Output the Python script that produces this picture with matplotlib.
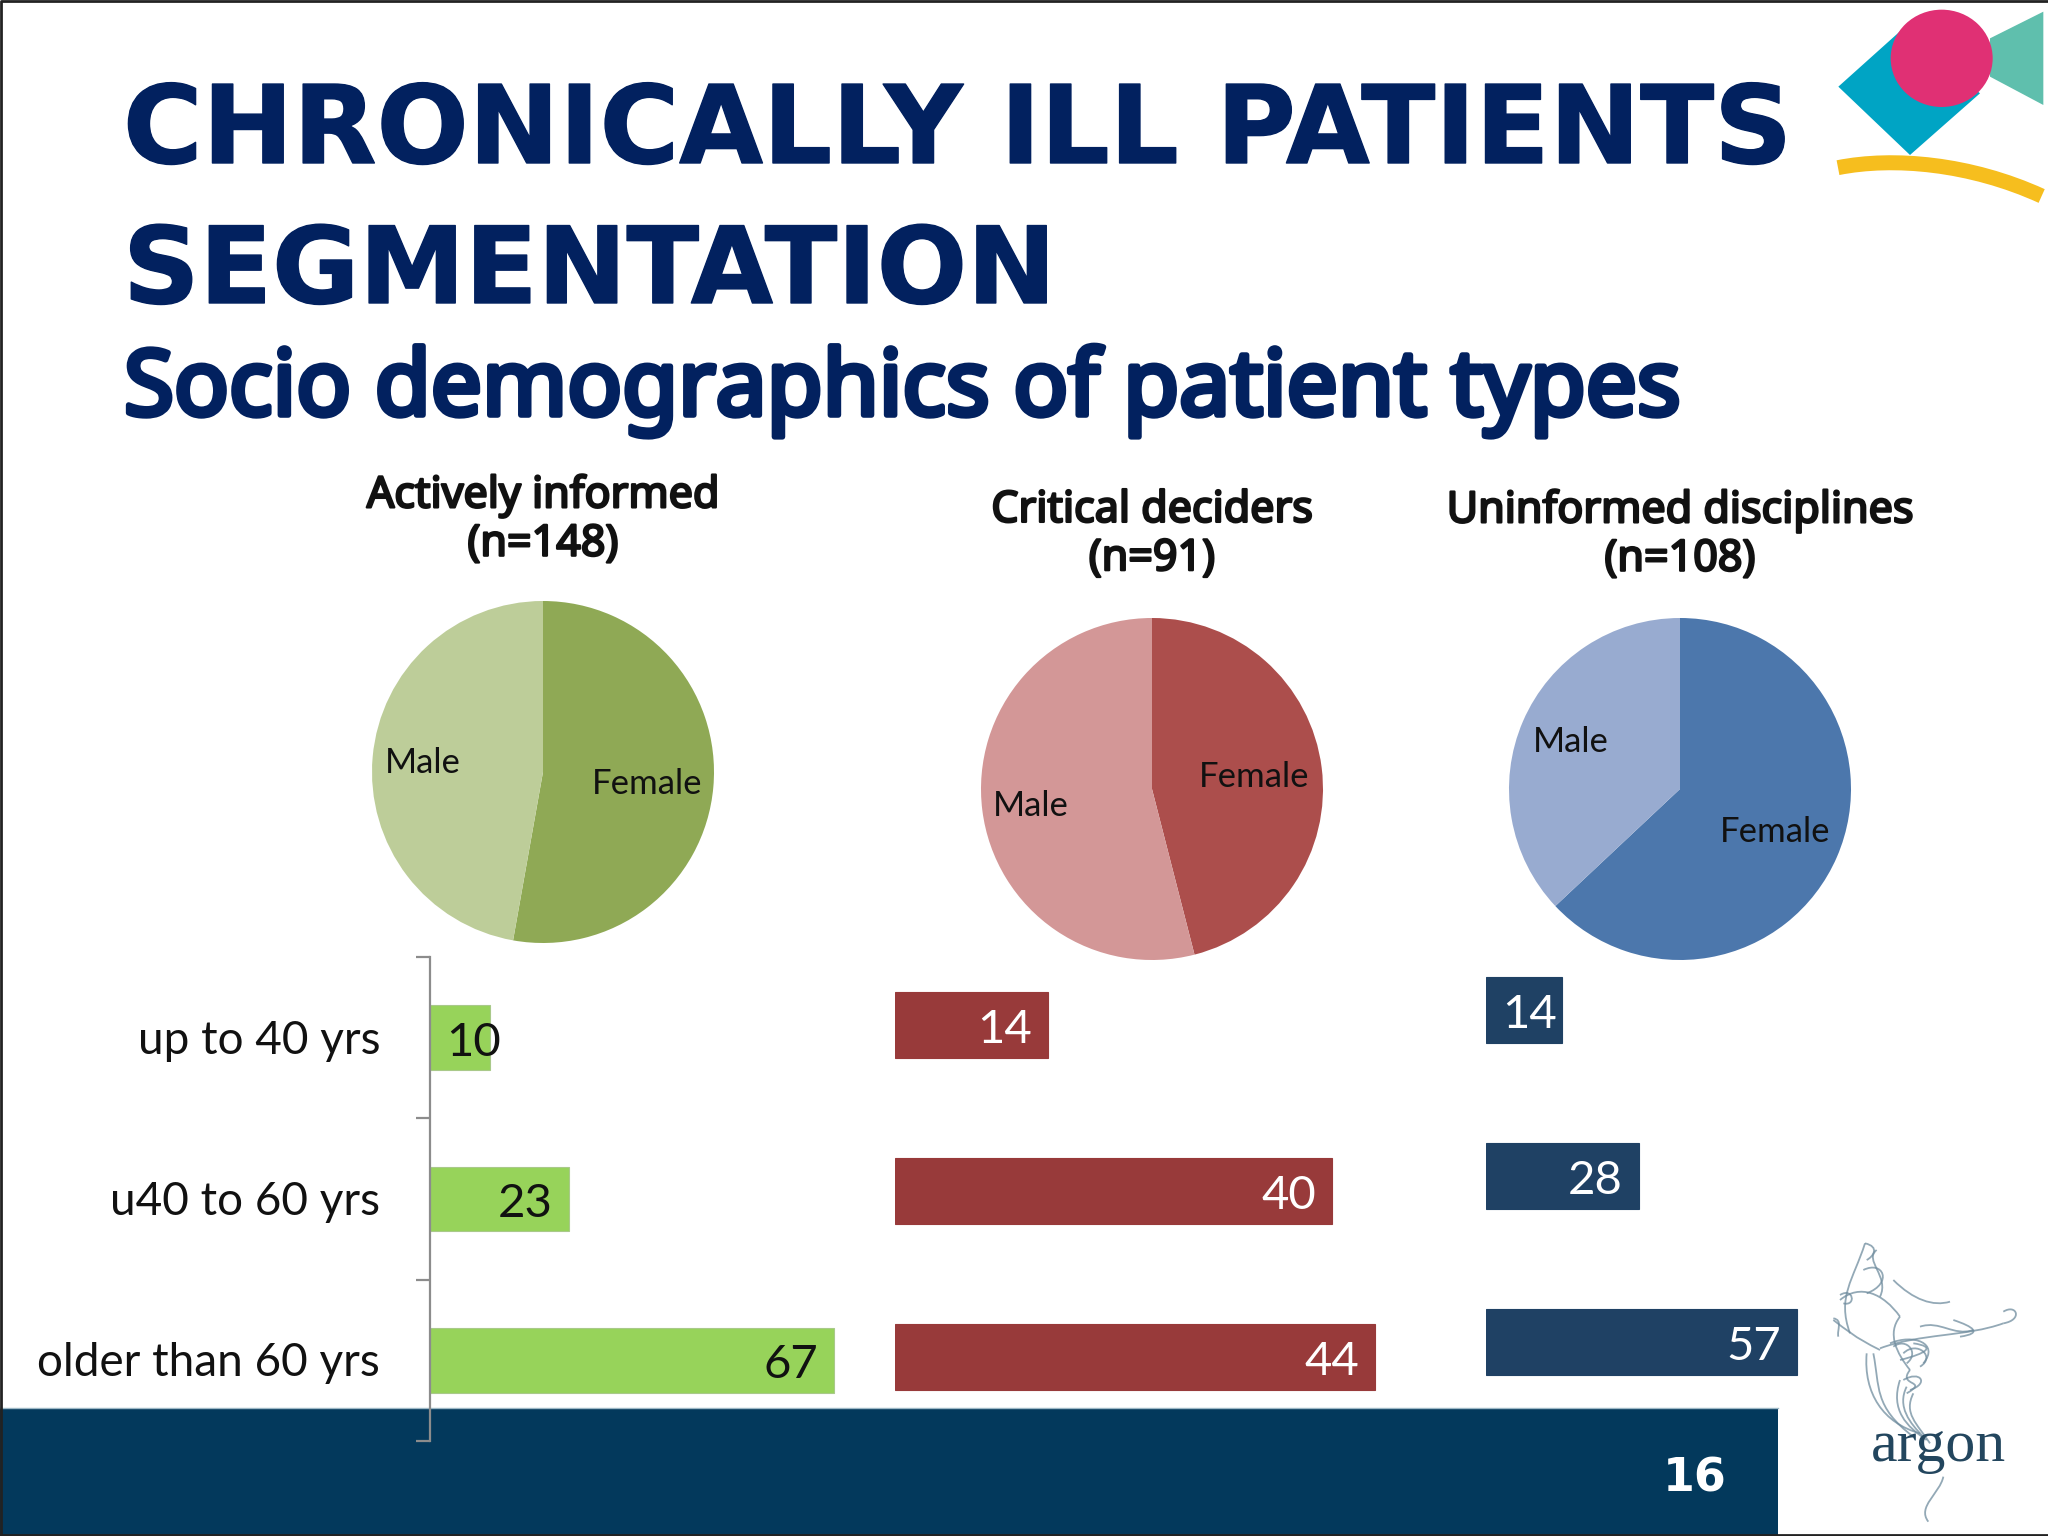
import matplotlib
matplotlib.use("Agg")
import matplotlib.pyplot as plt
import matplotlib.patheffects as pe
from matplotlib.patches import Polygon, Ellipse, Rectangle, PathPatch
from matplotlib.path import Path

W, H = 2048, 1536
TITLE_COLOR = "#02215F"

title_lines = ["CHRONICALLY ILL PATIENTS", "SEGMENTATION"]
subtitle = "Socio demographics of patient types"
page_number = "16"

age_groups = ["up to 40 yrs", "u40 to 60 yrs", "older than 60 yrs"]
pie_labels = ["Female", "Male"]

actively_title = "Actively informed\n(n=148)"
actively_gender = [52.8, 47.2]
actively_age = [10, 23, 67]

critical_title = "Critical deciders\n(n=91)"
critical_gender = [46, 54]
critical_age = [14, 40, 44]

uninformed_title = "Uninformed disciplines\n(n=108)"
uninformed_gender = [63, 37]
uninformed_age = [14, 28, 57]

fig = plt.figure(figsize=(W / 100, H / 100), dpi=100, facecolor="white")


def px_axes(x0, y0, x1, y1, **kw):
    """Axes given by pixel box (top-left origin)."""
    return fig.add_axes([x0 / W, 1 - y1 / H, (x1 - x0) / W, (y1 - y0) / H], **kw)


bg = px_axes(0, 0, W, H)
bg.set_xlim(0, W)
bg.set_ylim(H, 0)
bg.axis("off")
bg.set_zorder(0)

top = px_axes(0, 0, W, H)
top.set_xlim(0, W)
top.set_ylim(H, 0)
top.axis("off")
top.patch.set_alpha(0)
top.set_zorder(5)

# slide frame and footer
bg.add_patch(Rectangle((0, 1408), 1778, 128, color="#03395C", lw=0))
bg.plot([0, 1778], [1407.5, 1407.5], color="#9DB8C6", lw=1)
bg.plot([1, 1, W], [H, 1, 1], color="#222222", lw=2)
bg.plot([0, W], [H - 1, H - 1], color="#222222", lw=2)

# headline
heavy = [pe.withStroke(linewidth=1.0, foreground=TITLE_COLOR)]
bold_sub = [pe.withStroke(linewidth=4.0, foreground=TITLE_COLOR)]
bold_head = [pe.withStroke(linewidth=1.7, foreground="#111111")]
bg.text(123, 163, title_lines[0], fontsize=78, fontweight="bold", color=TITLE_COLOR,
        family="DejaVu Sans", va="baseline", ha="left", path_effects=heavy)
bg.text(123, 303, title_lines[1], fontsize=76.5, fontweight="bold", color=TITLE_COLOR,
        family="DejaVu Sans", va="baseline", ha="left", path_effects=heavy)
bg.text(124, 415, subtitle, fontsize=65.5, color=TITLE_COLOR,
        family="Noto Sans", va="baseline", ha="left", path_effects=bold_sub)
bg.text(1695, 1492, page_number, fontsize=33, fontweight="bold", color="white",
        family="DejaVu Sans", va="baseline", ha="center")


# top-right logo
def lz(x, y):
    return (1780 + x / 3, y / 3)


bg.add_patch(Polygon([lz(630, 115), lz(790, 35), lz(790, 315), lz(630, 230)], color="#5FBFAD", lw=0))
bg.add_patch(Polygon([lz(175, 260), lz(390, 465), lz(600, 280), lz(370, 85)], color="#00A4C4", lw=0))
c = lz(485, 175)
bg.add_patch(Ellipse(c, 306 / 3, 292 / 3, color="#E03074", lw=0))
arc = [lz(174, 503), lz(340, 470), lz(570, 490), lz(785, 588)]
bg.add_patch(PathPatch(Path(arc, [1, 4, 4, 4]), fc="none", ec="#F6BE1E", lw=10.8, capstyle="butt"))


# bottom-right logo
def lb(x, y):
    return (1740 + x / 3, 1220 + y / 3)


wisps = [
    [(375, 70), (340, 180), (290, 230), (330, 340)],
    [(375, 70), (420, 80), (400, 110), (380, 120)],
    [(410, 90), (370, 120), (450, 170), (420, 230)],
    [(370, 150), (430, 120), (460, 190), (380, 220)],
    [(300, 240), (360, 190), (430, 220), (480, 290)],
    [(300, 225), (340, 200), (350, 260), (310, 250)],
    [(460, 180), (520, 240), (580, 260), (630, 245)],
    [(280, 300), (320, 330), (340, 350), (420, 390)],
    [(280, 295), (310, 300), (290, 330), (295, 350)],
    [(420, 385), (540, 340), (680, 350), (790, 310)],
    [(540, 320), (600, 300), (640, 350), (700, 330)],
    [(640, 300), (700, 320), (730, 340), (660, 350)],
    [(790, 310), (850, 300), (830, 250), (790, 275)],
    [(480, 290), (440, 340), (470, 400), (510, 450)],
    [(450, 370), (520, 340), (600, 370), (550, 430)],
    [(480, 420), (560, 400), (590, 380), (520, 370)],
    [(460, 380), (500, 350), (540, 400), (500, 430)],
    [(490, 400), (530, 360), (590, 410), (540, 440)],
    [(510, 450), (470, 500), (570, 480), (500, 520)],
    [(490, 480), (540, 450), (570, 490), (510, 510)],
    [(380, 400), (370, 520), (430, 610), (540, 640)],
    [(400, 400), (420, 500), (400, 560), (520, 650)],
    [(480, 480), (450, 570), (500, 620), (560, 660)],
    [(520, 520), (490, 580), (530, 610), (570, 670)],
    [(500, 500), (470, 560), (510, 610), (550, 650)],
    [(610, 770), (600, 820), (530, 860), (565, 905)],
]
for w in wisps:
    bg.add_patch(PathPatch(Path([lb(*p) for p in w], [1, 4, 4, 4]), fc="none",
                           ec="#6F8C9E", lw=1.3, alpha=0.75))
bg.text(*lb(595, 722), "argon", fontsize=43, family="Liberation Serif", color="#23465E",
        ha="center", va="baseline")


def draw_pie(cx, cy, r, values, colors, title, title_y, label_pos):
    ax = px_axes(cx - r, cy - r, cx + r, cy + r)
    ax.pie(values, colors=colors, startangle=90, counterclock=False, radius=1,
           wedgeprops={"linewidth": 0})
    ax.set_xlim(-1, 1)
    ax.set_ylim(-1, 1)
    for lab, pos in zip(pie_labels, label_pos):
        top.text(pos[0], pos[1], lab, fontsize=25, family="Lato", color="#111111",
                 ha="center", va="center")
    bg.text(cx, title_y, title, fontsize=31, family="Noto Sans",
            color="#111111", ha="center", va="center", linespacing=1.13,
            path_effects=bold_head)


draw_pie(543, 772, 171, actively_gender, ["#8FA955", "#BDCD99"], actively_title, 520,
         [(647, 784), (423, 763)])
draw_pie(1152, 789, 171, critical_gender, ["#AC4E4C", "#D39797"], critical_title, 535,
         [(1254, 777), (1031, 806)])
draw_pie(1680, 789, 171, uninformed_gender, ["#4C77AC", "#98ABD0"], uninformed_title, 535,
         [(1775, 832), (1571, 742)])


def draw_bars(x0, y_top, y_bottom, scale, values, color, text_color, xlabel_offsets, edge=None, spine=False):
    ax = px_axes(x0, y_top, x0 + 640, y_bottom)
    ax.patch.set_alpha(0)
    ax.set_zorder(2)
    pos = list(range(len(values)))
    bars = ax.barh(pos, values, height=0.4, color=color, edgecolor=edge or color, linewidth=0.8)
    ax.set_ylim(2.5, -0.5)
    ax.set_xlim(0, 640 / scale)
    ax.set_xticks([])
    for s in ["top", "right", "bottom"]:
        ax.spines[s].set_visible(False)
    if spine:
        ax.spines["left"].set_color("#8C8C8C")
        ax.spines["left"].set_linewidth(1.6)
        ax.set_yticks([-0.5, 0.5, 1.5, 2.5])
        ax.set_yticklabels([])
        ax.tick_params(axis="y", length=10, width=1.6, color="#8C8C8C")
        for p, lab in zip(pos, age_groups):
            ax.annotate(lab, (0, p), xytext=(-50, -3), textcoords="offset pixels", ha="right",
                        va="center", fontsize=33, family="Lato", color="#111111")
    else:
        ax.spines["left"].set_visible(False)
        ax.set_yticks([])
    for b, v, off in zip(bars, values, xlabel_offsets):
        ax.annotate(str(v), (v, b.get_y() + b.get_height() / 2), xytext=(off, -5),
                    textcoords="offset pixels", ha="right", va="center", fontsize=34,
                    family="Lato", color=text_color)


draw_bars(430, 957, 1441, 6.03, actively_age, "#97D35A", "#111111", [11, -16, -16],
          edge="#A9C98A", spine=True)
draw_bars(895, 942, 1440, 10.92, critical_age, "#983A3A", "white", [-16, -16, -16])
draw_bars(1486, 927, 1425, 5.46, uninformed_age, "#1F4164", "white", [-6, -16, -16])

fig.savefig("out.png", dpi=100, facecolor="white")
